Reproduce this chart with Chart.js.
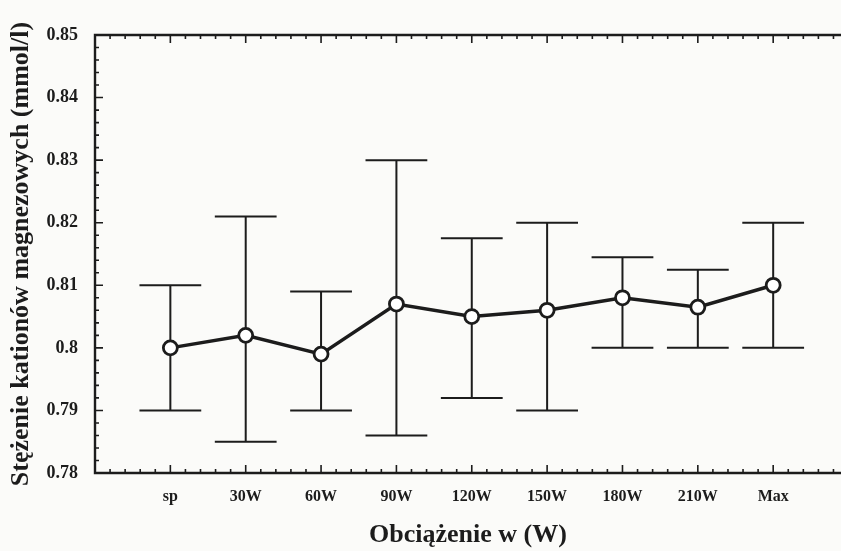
<!DOCTYPE html>
<html>
<head>
<meta charset="utf-8">
<script src="https://cdn.jsdelivr.net/npm/chart.js@4"></script>
<style>
  html, body { margin: 0; padding: 0; background: #fbfbf9; overflow: hidden; }
  #wrap { width: 841px; height: 551px; }
</style>
</head>
<body>
<div id="wrap"><canvas id="wykres" width="841" height="551"></canvas></div>
<script>
// dane
const kategorie = ['sp', '30W', '60W', '90W', '120W', '150W', '180W', '210W', 'Max'];
const srednie = [0.800, 0.802, 0.799, 0.807, 0.805, 0.806, 0.808, 0.8065, 0.810];
const gorne = [0.810, 0.821, 0.809, 0.830, 0.8175, 0.820, 0.8145, 0.8125, 0.820];
const dolne = [0.790, 0.785, 0.790, 0.786, 0.792, 0.790, 0.800, 0.800, 0.800];
const yTicki = [0.78, 0.79, 0.80, 0.81, 0.82, 0.83, 0.84, 0.85];

const kolor = '#1c1c1c';

// slupki bledow + osie z drobnymi kreskami
const dodatki = {
  id: 'dodatki',
  beforeDatasetsDraw(chart) {
    const { ctx, scales: { x, y } } = chart;
    ctx.save();
    ctx.strokeStyle = kolor;
    ctx.lineWidth = 2;
    kategorie.forEach((k, i) => {
      const px = x.getPixelForValue(i + 1);
      const pol = x.getPixelForValue(i + 1.41) - px;
      const yg = y.getPixelForValue(gorne[i]);
      const yd = y.getPixelForValue(dolne[i]);
      ctx.beginPath();
      ctx.moveTo(px, yg); ctx.lineTo(px, yd);
      ctx.moveTo(px - pol, yg); ctx.lineTo(px + pol, yg);
      ctx.moveTo(px - pol, yd); ctx.lineTo(px + pol, yd);
      ctx.stroke();
    });
    ctx.restore();
  },
  afterDraw(chart) {
    const { ctx, chartArea: a, scales: { x, y } } = chart;
    ctx.save();
    ctx.strokeStyle = kolor;
    ctx.lineWidth = 2.4;
    ctx.beginPath();
    ctx.moveTo(a.right + 2, a.top); ctx.lineTo(a.left, a.top);
    ctx.lineTo(a.left, a.bottom); ctx.lineTo(a.right + 2, a.bottom);
    ctx.stroke();

    ctx.lineWidth = 1.6;
    ctx.beginPath();
    // os Y: kreski co 0.002
    for (let n = 0; n <= 35; n++) {
      const py = y.getPixelForValue(0.78 + n * 0.002);
      const len = n % 5 === 0 ? 8 : 4;
      ctx.moveTo(a.left, py); ctx.lineTo(a.left + len, py);
    }
    // os X (gora i dol): kreski co 0.2
    for (let n = 1; n <= 49; n++) {
      const px = x.getPixelForValue(n * 0.2);
      const len = n % 5 === 0 ? 8 : 4;
      ctx.moveTo(px, a.bottom); ctx.lineTo(px, a.bottom - len);
      ctx.moveTo(px, a.top); ctx.lineTo(px, a.top + len);
    }
    ctx.stroke();
    ctx.restore();
  }
};

new Chart(document.getElementById('wykres').getContext('2d'), {
  type: 'line',
  data: {
    datasets: [{
      data: srednie.map((v, i) => ({ x: i + 1, y: v })),
      borderColor: kolor,
      borderWidth: 3.5,
      pointRadius: 7,
      pointBorderWidth: 2.8,
      pointBackgroundColor: '#ffffff',
      pointBorderColor: kolor,
      tension: 0
    }]
  },
  options: {
    responsive: false,
    animation: false,
    layout: { autoPadding: false, padding: { top: 35, right: 0, left: 0, bottom: 0 } },
    plugins: { legend: { display: false }, tooltip: { enabled: false } },
    scales: {
      x: {
        type: 'linear',
        min: 0,
        max: 9.9,
        grid: { display: false },
        border: { display: false },
        afterFit: (s) => { s.height = 78; },
        ticks: {
          stepSize: 1,
          includeBounds: false,
          autoSkip: false,
          maxRotation: 0,
          padding: 6,
          color: kolor,
          font: { family: 'Liberation Serif', weight: 'bold', size: 16 },
          callback: (v) => Number.isInteger(v) && v >= 1 && v <= kategorie.length ? kategorie[v - 1] : ''
        },
        title: {
          display: true,
          text: 'Obciążenie w (W)',
          color: kolor,
          font: { family: 'Liberation Serif', weight: 'bold', size: 26 },
          padding: { top: 12, bottom: 0 }
        }
      },
      y: {
        min: 0.78,
        max: 0.85,
        grid: { display: false },
        border: { display: false },
        afterFit: (s) => { s.width = 95; },
        afterBuildTicks: (s) => { s.ticks = yTicki.map(v => ({ value: v })); },
        ticks: {
          padding: 9,
          color: kolor,
          font: { family: 'Liberation Serif', weight: 'bold', size: 18 },
          callback: (v) => String(+v.toFixed(2))
        },
        title: {
          display: true,
          text: 'Stężenie kationów magnezowych (mmol/l)',
          color: kolor,
          font: { family: 'Liberation Serif', weight: 'bold', size: 26 },
          padding: { top: 6, bottom: 0 }
        }
      }
    }
  },
  plugins: [dodatki]
});
</script>
</body>
</html>
